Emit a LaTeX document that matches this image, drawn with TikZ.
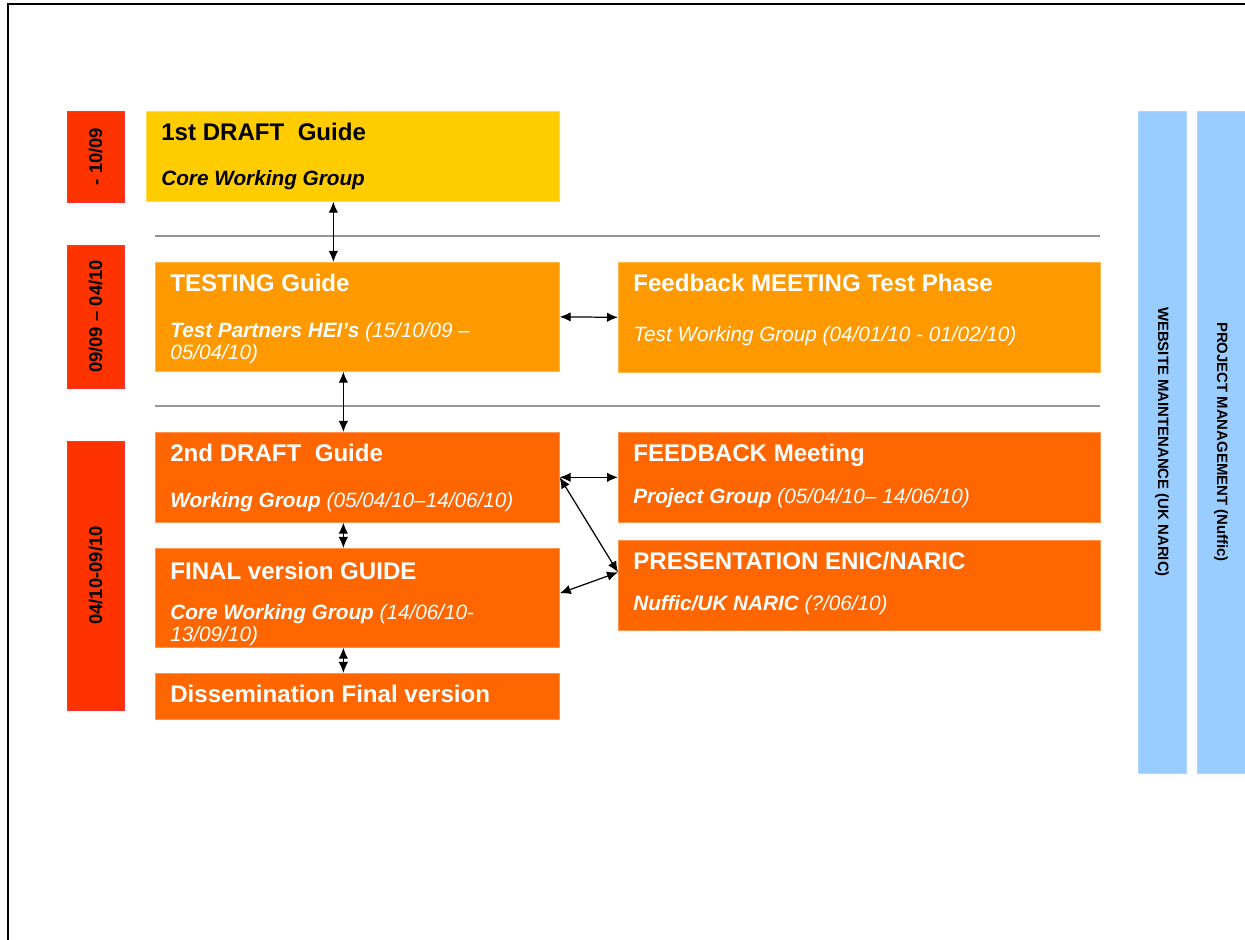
\documentclass[tikz,border=0pt]{standalone}
\usepackage{fontspec}
\setmainfont{Liberation Sans}
\usepackage{xcolor}
\usepackage{tikz}
\usetikzlibrary{positioning,arrows.meta}
\definecolor{yellowBox}{RGB}{255,204,0}
\definecolor{orangeBox}{RGB}{255,153,0}
\definecolor{darkOrangeBox}{RGB}{255,102,0}
\definecolor{redDate}{RGB}{255,51,0}
\definecolor{blueBar}{RGB}{153,204,255}
\definecolor{lineGray}{RGB}{150,150,150}
\tikzset{
  taskbox/.style={anchor=north west, inner sep=0pt, fill=#1, draw=#1!70!white, line width=0.4pt},
  datebox/.style={rotate=90, inner sep=0pt, fill=redDate, draw=red!80!white, line width=0.5pt,
    minimum height=1.14cm, font=\fontsize{10.5}{12}\selectfont\bfseries},
  sidebar/.style={rotate=-90, inner sep=0pt, fill=blueBar, draw=blueBar!80!white, line width=0.4pt,
    minimum width=13.24cm, minimum height=0.96cm, font=\fontsize{8.5}{10}\selectfont\bfseries},
  titletext/.style={anchor=base west, inner sep=0pt, text=white, font=\fontsize{13.7}{16}\selectfont\bfseries},
  subtext/.style={anchor=base west, inner sep=0pt, text=white, align=left, font=\fontsize{11.8}{12.5}\selectfont\itshape},
  conn/.style={<->, line width=0.7pt},
  sepline/.style={lineGray, line width=0.8pt}
}

\begin{document}
\begin{tikzpicture}[>={Latex[length=2.2mm,width=1.9mm]}]
  \useasboundingbox (0,0) rectangle (24.9,18.8);
  % Page frame
  \draw[line width=1.2pt] (0.16,0) -- (0.16,18.72) -- (24.9,18.72);
  % Period labels
  \node[datebox, minimum width=1.82cm] (perA) at (1.91,15.67) {- 10/09};
  \node[datebox, minimum width=2.86cm] (perB) at (1.91,12.47) {09/09 – 04/10};
  \node[datebox, minimum width=5.38cm] (perC) at (1.91,7.29) {04/10-09/10};
  % Separators
  \draw[sepline] (3.10,14.08) -- (22.0,14.08);
  \draw[sepline] (3.10,10.68) -- (22.0,10.68);
  % First draft
  \node[taskbox=yellowBox, minimum width=8.26cm, minimum height=1.8cm] (draft1) at (2.92,16.58) {};
  \node[titletext, text=black] (draft1T) at ([xshift=0.3cm,yshift=-0.59cm]draft1.north west) {1st DRAFT\ \ Guide};
  \node[subtext, text=black] (draft1S) at ([xshift=0.3cm,yshift=-1.49cm]draft1.north west) {\textbf{Core Working Group}};
  % Testing phase
  \node[taskbox=orangeBox, minimum width=8.08cm, minimum height=2.18cm] (testing) at (3.10,13.56) {};
  \node[titletext] (testingT) at ([xshift=0.3cm,yshift=-0.59cm]testing.north west) {TESTING Guide};
  \node[subtext] (testingS) at ([xshift=0.3cm,yshift=-1.95cm]testing.north west) {\textbf{Test Partners HEI’s} (15/10/09 –\\05/04/10)};
  \node[taskbox=orangeBox, minimum width=9.64cm, minimum height=2.2cm] (fbTest) at (12.36,13.56) {};
  \node[titletext] (fbTestT) at ([xshift=0.3cm,yshift=-0.59cm]fbTest.north west) {Feedback MEETING Test Phase};
  \node[subtext] (fbTestS) at ([xshift=0.3cm,yshift=-1.59cm]fbTest.north west) {Test Working Group (04/01/10 - 01/02/10)};
  % Second draft and final
  \node[taskbox=darkOrangeBox, minimum width=8.08cm, minimum height=1.8cm] (draft2) at (3.10,10.16) {};
  \node[titletext] (draft2T) at ([xshift=0.3cm,yshift=-0.59cm]draft2.north west) {2nd DRAFT\ \ Guide};
  \node[subtext] (draft2S) at ([xshift=0.3cm,yshift=-1.51cm]draft2.north west) {\textbf{Working Group} (05/04/10–14/06/10)};
  \node[taskbox=darkOrangeBox, minimum width=9.64cm, minimum height=1.8cm] (fbProj) at (12.36,10.16) {};
  \node[titletext] (fbProjT) at ([xshift=0.3cm,yshift=-0.59cm]fbProj.north west) {FEEDBACK Meeting};
  \node[subtext] (fbProjS) at ([xshift=0.3cm,yshift=-1.43cm]fbProj.north west) {\textbf{Project Group} (05/04/10– 14/06/10)};
  \node[taskbox=darkOrangeBox, minimum width=8.08cm, minimum height=1.98cm] (final) at (3.10,7.84) {};
  \node[titletext] (finalT) at ([xshift=0.3cm,yshift=-0.63cm]final.north west) {FINAL version GUIDE};
  \node[subtext] (finalS) at ([xshift=0.3cm,yshift=-1.87cm]final.north west) {\textbf{Core Working Group} (14/06/10-\\13/09/10)};
  \node[taskbox=darkOrangeBox, minimum width=9.64cm, minimum height=1.8cm] (present) at (12.36,8.0) {};
  \node[titletext] (presentT) at ([xshift=0.3cm,yshift=-0.59cm]present.north west) {PRESENTATION ENIC/NARIC};
  \node[subtext] (presentS) at ([xshift=0.3cm,yshift=-1.41cm]present.north west) {\textbf{Nuffic/UK NARIC} (?/06/10)};
  \node[taskbox=darkOrangeBox, minimum width=8.08cm, minimum height=0.92cm] (dissem) at (3.10,5.34) {};
  \node[titletext] (dissemT) at ([xshift=0.3cm,yshift=-0.59cm]dissem.north west) {Dissemination Final version};
  % Side bars
  \node[sidebar] (webBar) at (23.24,9.96) {WEBSITE MAINTENANCE (UK NARIC)};
  \node[sidebar] (projBar) at (24.42,9.96) {PROJECT MANAGEMENT (Nuffic)};
  % Links
  \coordinate (linkA) at ([xshift=-0.39cm]draft1.south);
  \draw[conn] (linkA) -- (linkA |- testing.north);
  \draw[conn] ([xshift=-0.28cm]testing.south) -- ([xshift=-0.28cm]draft2.north);
  \draw[conn] ([xshift=-0.28cm]draft2.south) -- ([xshift=-0.28cm]final.north);
  \draw[conn] ([xshift=-0.28cm]final.south) -- ([xshift=-0.28cm]dissem.north);
  \draw[conn] (testing.east) -- (fbTest.west);
  \draw[conn] (draft2.east) -- (fbProj.west);
  \draw[conn] (draft2.east) -- ([yshift=0.26cm]present.west);
  \draw[conn] ([yshift=0.09cm]final.east) -- ([yshift=0.26cm]present.west);
\end{tikzpicture}
\end{document}
